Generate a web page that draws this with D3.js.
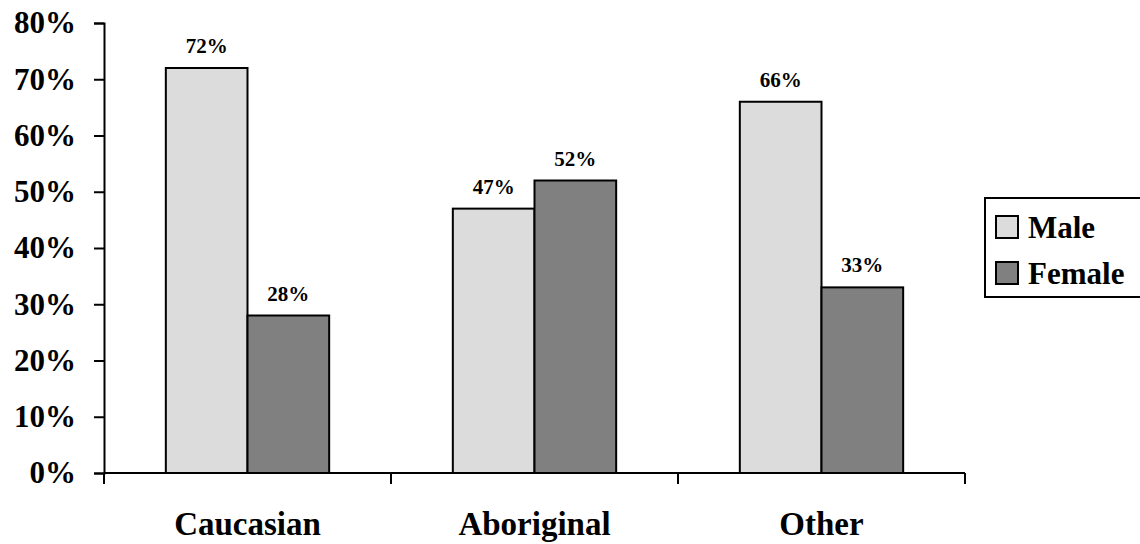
<!DOCTYPE html>
<html>
<head>
<meta charset="utf-8">
<script src="https://cdn.jsdelivr.net/npm/d3@7/dist/d3.min.js"></script>
<style>
  html, body { margin: 0; padding: 0; background: #fff; }
  svg { display: block; font-family: "Liberation Serif", "Times New Roman", serif; font-weight: bold; }
</style>
</head>
<body>
<svg id="chart" width="1140" height="544"></svg>
<script>
// Share of each group by sex
const categories = ["Caucasian", "Aboriginal", "Other"];
const seriesNames = ["Male", "Female"];
const maleValues = [72, 47, 66];
const femaleValues = [28, 52, 33];
const yTicks = [0, 10, 20, 30, 40, 50, 60, 70, 80];
const seriesColors = ["#dcdcdc", "#808080"];

const svg = d3.select("#chart");
const plot = { left: 104, right: 965, top: 23, bottom: 473 };

const x = d3.scaleBand().domain(categories).range([plot.left, plot.right]);
const xSub = d3.scaleBand().domain(seriesNames).range([0, x.bandwidth()]).paddingOuter(0.757).paddingInner(0);
const y = d3.scaleLinear().domain([0, 80]).range([plot.bottom, plot.top]);

const rows = categories.map((c, i) => ({ category: c, values: [
  { series: "Male", value: maleValues[i] },
  { series: "Female", value: femaleValues[i] }
]}));

// Bars
const groups = svg.append("g").selectAll("g").data(rows).join("g")
  .attr("transform", d => `translate(${x(d.category)},0)`);

groups.selectAll("rect").data(d => d.values).join("rect")
  .attr("x", d => xSub(d.series))
  .attr("y", d => y(d.value))
  .attr("width", xSub.bandwidth())
  .attr("height", d => y(0) - y(d.value))
  .attr("fill", (d, i) => seriesColors[i])
  .attr("stroke", "#000")
  .attr("stroke-width", 2);

groups.selectAll("text").data(d => d.values).join("text")
  .attr("x", d => xSub(d.series) + xSub.bandwidth() / 2)
  .attr("y", d => y(d.value) - 15)
  .attr("text-anchor", "middle")
  .attr("font-size", 21)
  .text(d => d.value + "%");

// Y axis
const yAxis = svg.append("g")
  .attr("transform", `translate(${plot.left},0)`)
  .call(d3.axisLeft(y).tickValues(yTicks).tickFormat(d => d + "%").tickSize(10).tickPadding(18))
  .attr("font-family", null)
  .attr("font-size", null);
yAxis.select(".domain").attr("stroke-width", 2);
yAxis.selectAll(".tick line").attr("stroke-width", 2);
yAxis.selectAll(".tick text").attr("font-size", 31).attr("fill", "#000");

// X axis with ticks at category boundaries
const xAxis = svg.append("g").attr("transform", `translate(0,${plot.bottom})`);
xAxis.append("line")
  .attr("x1", plot.left).attr("x2", plot.right)
  .attr("stroke", "#000").attr("stroke-width", 2);
const boundaries = categories.map(c => x(c)).concat([x(categories[categories.length - 1]) + x.bandwidth()]);
xAxis.selectAll("line.tick").data(boundaries).join("line")
  .attr("class", "tick")
  .attr("x1", d => d).attr("x2", d => d)
  .attr("y1", 0).attr("y2", 11)
  .attr("stroke", "#000").attr("stroke-width", 2);
xAxis.selectAll("text").data(categories).join("text")
  .attr("x", d => x(d) + x.bandwidth() / 2)
  .attr("y", 62)
  .attr("text-anchor", "middle")
  .attr("font-size", 33)
  .text(d => d);

// Legend
const legend = svg.append("g").attr("transform", "translate(985,198)");
legend.append("rect")
  .attr("x", 0).attr("y", 0).attr("width", 170).attr("height", 99)
  .attr("fill", "#fff").attr("stroke", "#000").attr("stroke-width", 2);
const items = legend.selectAll("g.item").data(seriesNames).join("g")
  .attr("class", "item")
  .attr("transform", (d, i) => `translate(11,${29 + i * 46})`);
items.append("rect")
  .attr("x", 0).attr("y", -11).attr("width", 22).attr("height", 22)
  .attr("fill", (d, i) => seriesColors[i])
  .attr("stroke", "#000").attr("stroke-width", 2);
items.append("text")
  .attr("x", 32).attr("y", 11)
  .attr("font-size", 31)
  .text(d => d);
</script>
</body>
</html>
